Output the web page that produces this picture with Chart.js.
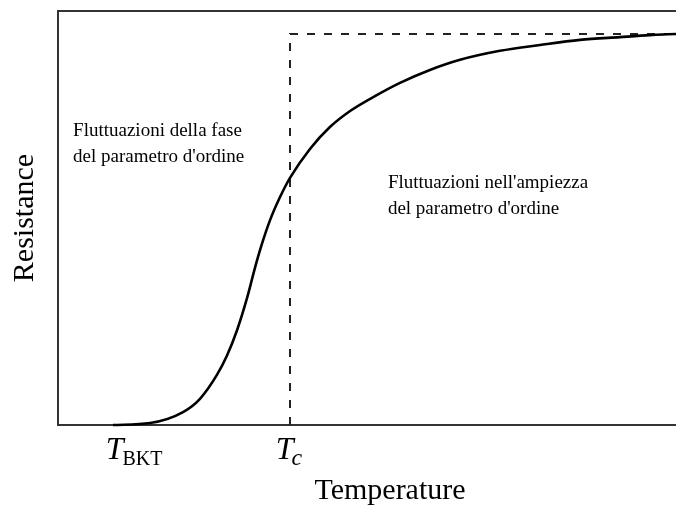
<!DOCTYPE html>
<html>
<head>
<meta charset="utf-8">
<script src="https://cdn.jsdelivr.net/npm/chart.js@4"></script>
<style>
  html, body { margin: 0; padding: 0; background: #fff; overflow: hidden; }
  #wrap { position: relative; width: 722px; height: 506px; }
</style>
</head>
<body>
<div id="wrap"><canvas id="c"></canvas></div>
<script>
// Normalised temperature T/Tc and resistance R/Rn
const temperature = [0.237, 0.397, 0.539, 0.612, 0.685, 0.728, 0.772, 0.815, 0.849, 0.879, 0.914, 0.957, 1.000, 1.086, 1.172, 1.259, 1.366, 1.474, 1.603, 1.733, 1.905, 2.078, 2.250, 2.422, 2.552, 2.664, 2.862];
const resistance  = [0.000, 0.005, 0.033, 0.067, 0.128, 0.177, 0.243, 0.325, 0.402, 0.463, 0.524, 0.583, 0.632, 0.706, 0.762, 0.803, 0.841, 0.875, 0.908, 0.934, 0.957, 0.972, 0.985, 0.992, 0.997, 1.000, 1.000];

// Dashed reference: Tc vertical and normal-state resistance
const refT = [1.0, 1.0, 2.862];
const refR = [0.0, 1.0, 1.0];

// Tick positions and labels (main symbol + subscript)
const tickValues = [0.33, 1.0];
const tickMain = ["T", "T"];
const tickSub = ["BKT", "c"];

// Annotation texts
const noteLeft = ["Fluttuazioni della fase", "del parametro d'ordine"];
const noteRight = ["Fluttuazioni nell'ampiezza", "del parametro d'ordine"];

const xMax = 2.862, yMax = 1.0588;
const SERIF = "'Liberation Serif', 'DejaVu Serif', serif";

const decor = {
  id: 'decor',
  beforeDatasetsDraw(chart) {
    const {ctx, chartArea} = chart;
    ctx.save();
    ctx.strokeStyle = '#333';
    ctx.lineWidth = 2;
    ctx.beginPath();
    ctx.moveTo(chartArea.left - 1, chartArea.top);
    ctx.lineTo(chartArea.right, chartArea.top);
    ctx.stroke();
    ctx.restore();
  },
  afterDraw(chart, args, opts) {
    const {ctx} = chart;
    const xs = chart.scales.x, ys = chart.scales.y;
    ctx.save();
    ctx.fillStyle = '#000';
    // tick labels
    tickValues.forEach((v, i) => {
      const px = xs.getPixelForValue(v);
      ctx.font = `italic 32px ${SERIF}`;
      const wMain = ctx.measureText(tickMain[i]).width;
      const subFont = tickSub[i] === 'c' ? `italic 24px ${SERIF}` : `20px ${SERIF}`;
      ctx.font = subFont;
      const wSub = ctx.measureText(tickSub[i]).width;
      const total = wMain + wSub;
      const x0 = px - total / 2;
      const base = xs.top + 34;
      ctx.textBaseline = 'alphabetic';
      ctx.textAlign = 'left';
      ctx.font = `italic 32px ${SERIF}`;
      ctx.fillText(tickMain[i], x0, base);
      ctx.font = subFont;
      ctx.fillText(tickSub[i], x0 + wMain - (tickSub[i] === 'c' ? 2 : 1), base + 6);
    });
    // annotations
    ctx.font = `19px ${SERIF}`;
    ctx.textAlign = 'left';
    ctx.textBaseline = 'alphabetic';
    opts.notes.forEach(n => {
      const px = xs.getPixelForValue(n.t);
      const py = ys.getPixelForValue(n.r);
      n.lines.forEach((line, k) => ctx.fillText(line, px, py + k * 26));
    });
    ctx.restore();
  }
};

new Chart(document.getElementById('c'), {
  type: 'line',
  data: {
    datasets: [
      {
        data: temperature.map((t, i) => ({x: t, y: resistance[i]})),
        borderColor: '#000',
        borderWidth: 2.6,
        pointRadius: 0,
        cubicInterpolationMode: 'monotone',
        fill: false,
        clip: false
      },
      {
        data: refT.map((t, i) => ({x: t, y: refR[i]})),
        borderColor: '#222',
        borderWidth: 2,
        borderDash: [8, 9],
        pointRadius: 0,
        tension: 0,
        fill: false,
        clip: false
      }
    ]
  },
  options: {
    responsive: true,
    maintainAspectRatio: false,
    animation: false,
    layout: { padding: { top: 11, right: 0, bottom: 0, left: 0 } },
    plugins: {
      legend: { display: false },
      tooltip: { enabled: false },
      decor: {
        notes: [
          { t: 0.065, r: 0.739, lines: noteLeft },
          { t: 1.422, r: 0.606, lines: noteRight }
        ]
      }
    },
    scales: {
      x: {
        type: 'linear',
        min: 0, max: xMax,
        grid: { display: false },
        border: { display: true, color: '#333', width: 2 },
        ticks: { display: false },
        afterBuildTicks: s => { s.ticks = tickValues.map(v => ({value: v})); },
        afterFit: s => { s.height = 81; },
        title: {
          display: true, text: 'Temperature', color: '#000',
          font: { family: SERIF, size: 30, lineHeight: 1 },
          padding: { top: 0, bottom: 0 }
        }
      },
      y: {
        type: 'linear',
        min: 0, max: yMax,
        grid: { display: false },
        border: { display: true, color: '#333', width: 2 },
        ticks: { display: false },
        afterFit: s => { s.width = 58; },
        title: {
          display: true, text: 'Resistance', color: '#000',
          font: { family: SERIF, size: 30, lineHeight: 1 },
          padding: { top: 10, bottom: 0 }
        }
      }
    }
  },
  plugins: [decor]
});
</script>
</body>
</html>
